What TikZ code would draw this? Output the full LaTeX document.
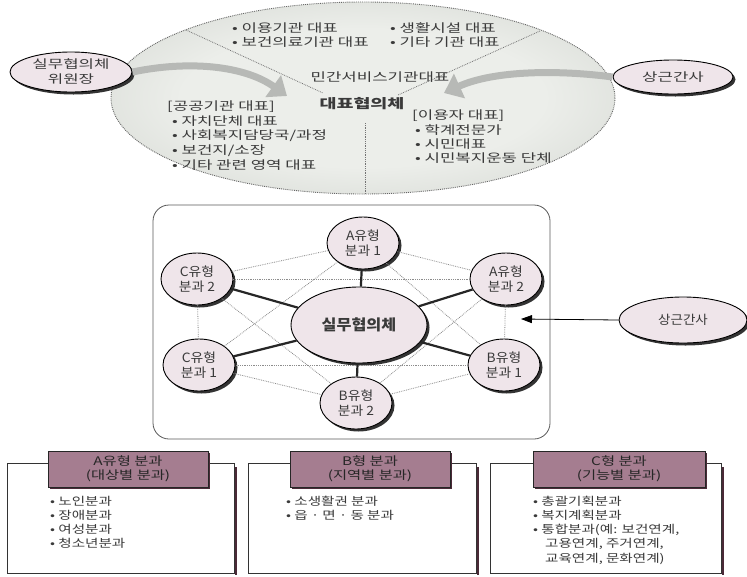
\documentclass[tikz,border=0pt]{standalone}
\usepackage{fontspec}
\setmainfont{Noto Sans CJK KR}
\newfontfamily\widefont{Noto Sans CJK KR}[FakeStretch=1.42]
\newfontfamily\midfont{Noto Sans CJK KR}[FakeStretch=1.3]
\newfontfamily\netfont{Noto Sans CJK KR}[FakeStretch=1.08]
\usetikzlibrary{shapes.geometric,arrows.meta,shadows}

\definecolor{ovalfill}{HTML}{EFE5EA}
\definecolor{txtc}{HTML}{3A3A3A}
\definecolor{mauve}{HTML}{A57D90}
\definecolor{maroon}{HTML}{4B2A38}
\definecolor{ellout}{HTML}{BFC4BD}
\definecolor{ellin}{HTML}{ECEEEA}
\definecolor{bandgray}{HTML}{B7B9B6}

\pgfdeclareradialshading{ellshade}{\pgfpoint{0bp}{0bp}}{%
  color(0bp)=(ellin); color(18bp)=(ellin); color(50bp)=(ellout); color(60bp)=(ellout)}

\tikzset{
  toptext/.style={text=txtc, inner sep=0pt, font=\widefont\fontsize{11.8}{14.7}\selectfont},
  bottext/.style={text=txtc, inner sep=0pt, font=\midfont\fontsize{11.2}{14}\selectfont},
  oval/.style={ellipse, draw=black, line width=0.9pt, fill=ovalfill, align=center,
    text=txtc, inner sep=0pt,
    drop shadow={shadow xshift=2.5pt, shadow yshift=-2.5pt, fill=black!80, opacity=1}},
  unit/.style={oval, minimum width=72pt, minimum height=52pt,
    font=\netfont\fontsize{12.8}{15}\selectfont},
  hub/.style={oval, minimum width=136pt, minimum height=76pt,
    font=\netfont\bfseries\fontsize{15}{17}\selectfont},
  tie/.style={draw=black!85, line width=2.2pt},
  mesh/.style={draw=black!45, densely dotted, line width=0.8pt},
  divider/.style={draw=black!55, densely dotted, line width=0.8pt},
  band/.style={draw=bandgray, line width=7pt,
    -{Triangle[length=17pt, width=26pt]}},
  listbox/.style={draw=black!80, line width=0.8pt},
  header/.style={rectangle, draw=black!85, line width=0.9pt, fill=mauve, align=center,
    text=black!85, inner sep=0pt, minimum height=36pt,
    font=\midfont\fontsize{11.8}{14}\selectfont,
    drop shadow={shadow xshift=2pt, shadow yshift=-2pt, fill=maroon, opacity=1}},
}

\begin{document}
\begin{tikzpicture}[x=1pt, y=-1pt]
\useasboundingbox (0,0) rectangle (747,576);
\fill[white] (0,0) rectangle (747,576);

% ---- representative council (upper oval) ----
\shade[shading=ellshade] (363,98) ellipse [x radius=252, y radius=96];
\draw[black!60, densely dotted, line width=0.9pt] (363,98) ellipse [x radius=252, y radius=96];
\draw[divider] (186,30) -- (323,93);
\draw[divider] (540,31) -- (398,95);
\draw[divider] (365,123) -- (365,194);

\node[toptext, anchor=base west] (ta1) at (232,32) {• 이용기관 대표};
\node[toptext, anchor=base west] (ta2) at (232,46.7) {• 보건의료기관 대표};
\node[toptext, anchor=base west] (tb1) at (390,32) {• 생활시설 대표};
\node[toptext, anchor=base west] (tb2) at (390,46.7) {• 기타 기관 대표};
\node[toptext] (private) at (380,77) {민간서비스기관대표};
\node[toptext, font=\widefont\bfseries\fontsize{13}{15}\selectfont] (council) at (362,104) {대표협의체};

\node[toptext, anchor=base west] (pubh) at (167,110) {[공공기관 대표]};
\foreach \t [count=\i] in {• 자치단체 대표, • 사회복지담당국/과정, • 보건지/소장, • 기타 관련 영역 대표}
  \node[toptext, anchor=base west] (pub\i) at (172,{125+14.7*(\i-1)}) {\t};

\node[toptext, anchor=base west] (userh) at (412,119) {[이용자 대표]};
\foreach \t [count=\i] in {• 학계전문가, • 시민대표, • 시민복지운동 단체}
  \node[toptext, anchor=base west] (user\i) at (415,{134+14.3*(\i-1)}) {\t};

% side ovals and curved block arrows
\node[oval, minimum width=122pt, minimum height=40pt,
  font=\widefont\fontsize{11.8}{15}\selectfont] (chair) at (71,72) {실무협의체\\위원장};
\node[oval, minimum width=120pt, minimum height=34pt,
  font=\widefont\fontsize{11.8}{15}\selectfont] (staffa) at (673,77) {상근간사};
\coordinate (chairtip) at (287,96);
\coordinate (stafftip) at (444,93);
\draw[band] (chair.east) .. controls (190,60) and (245,66) .. (chairtip);
\draw[band] (staffa.west) .. controls (560,70) and (495,70) .. (stafftip);

% ---- working council network ----
\draw[listbox, draw=black!65, rounded corners=16pt] (153,205) rectangle (550,439);

\node[hub] (hubn) at (359,325) {실무협의체};
\node[unit] (a1) at (363,243) {A유형\\분과 1};
\node[unit] (a2) at (506,279) {A유형\\분과 2};
\node[unit] (b1) at (504,365) {B유형\\분과 1};
\node[unit] (b2) at (356,403) {B유형\\분과 2};
\node[unit] (c1) at (199,365) {C유형\\분과 1};
\node[unit] (c2) at (197,279) {C유형\\분과 2};

\foreach \p/\q in {a1/a2, a2/b1, b1/b2, b2/c1, c1/c2, c2/a1,
                   a1/b1, a2/b2, b1/c1, b2/c2, c1/a1, c2/a2}
  \draw[mesh] (\p) -- (\q);
\foreach \p in {a1, a2, b1, b2, c1, c2}
  \draw[tie] (hubn) -- (\p);

\node[oval, minimum width=128pt, minimum height=46pt,
  font=\netfont\fontsize{12.5}{15}\selectfont] (staffb) at (683,320) {상근간사};
\coordinate (boxtip) at (521,319);
\draw[line width=0.8pt, -{Triangle[length=11pt, width=8pt]}] (staffb.west) -- (boxtip);

% ---- subcommittee boxes ----
\foreach \l/\r/\n in {7/234/A, 248/476/B, 490/721/C}{
  \draw[maroon, line width=2.4pt] (\r+1.8,467) -- (\r+1.8,574.5);
  \draw[listbox, fill=white] (\l,463) rectangle (\r,573);
}
\node[header, minimum width=160pt] (ha) at (128,469) {A유형 분과\\(대상별 분과)};
\node[header, minimum width=160pt] (hb) at (370,469) {B형 분과\\(지역별 분과)};
\node[header, minimum width=172pt] (hc) at (619,469) {C형 분과\\(기능별 분과)};

\foreach \t [count=\i] in {• 노인분과, • 장애분과, • 여성분과, • 청소년분과}
  \node[bottext, anchor=base west] (la\i) at (50,{505+14.3*(\i-1)}) {\t};
\foreach \t [count=\i] in {• 소생활권 분과, • 읍 · 면 · 동 분과}
  \node[bottext, anchor=base west] (lb\i) at (286,{505+14.3*(\i-1)}) {\t};
\foreach \t [count=\i] in {• 총괄기획분과, • 복지계획분과, {• 통합분과(예: 보건연계,}}
  \node[bottext, anchor=base west] (lc\i) at (533,{505+14.3*(\i-1)}) {\t};
\node[bottext, anchor=base west] (lc4) at (545,547.9) {고용연계, 주거연계,};
\node[bottext, anchor=base west] (lc5) at (545,562.2) {교육연계, 문화연계)};
\end{tikzpicture}
\end{document}
